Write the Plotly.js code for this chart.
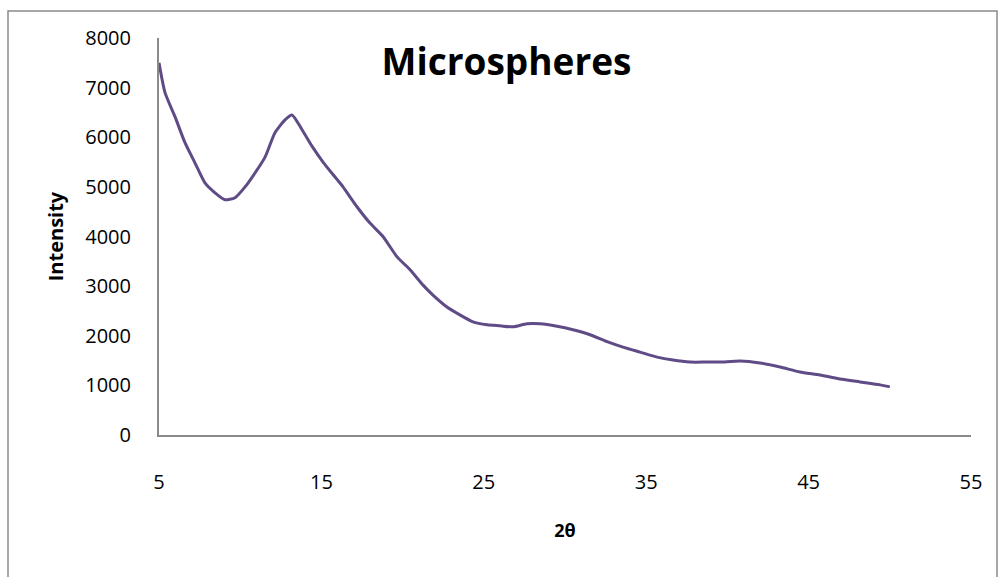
<!DOCTYPE html>
<html>
<head>
<meta charset="utf-8">
<script src="https://cdn.plot.ly/plotly-3.0.1.min.js"></script>
<style>
html,body{margin:0;padding:0;background:#fff;}
#chart{width:1000px;height:577px;}
</style>
</head>
<body>
<div id="chart"></div>
<script>
// Data (2θ in degrees, intensity in counts)
const twoTheta = [5.00, 5.37, 5.99, 6.60, 7.22, 7.83, 8.45, 9.06, 9.68, 10.30,
  10.91, 11.53, 12.14, 12.76, 13.19, 13.81, 14.42, 15.10, 15.96, 16.33,
  17.19, 17.99, 18.79, 19.66, 20.46, 21.26, 21.87, 22.73, 23.53, 24.33,
  25.20, 26.00, 26.80, 27.66, 28.46, 29.51, 30.49, 31.54, 32.59, 33.57,
  34.62, 35.67, 36.65, 37.70, 38.74, 39.54, 40.78, 42.01, 43.24, 44.47,
  45.70, 46.93, 48.16, 49.40, 50.00];
const intensity = [7500, 6900, 6410, 5890, 5480, 5080, 4880, 4740, 4780, 5000,
  5280, 5600, 6090, 6350, 6450, 6150, 5820, 5500, 5150, 5000,
  4600, 4270, 4000, 3590, 3330, 3020, 2820, 2580, 2420, 2280,
  2220, 2200, 2180, 2240, 2240, 2190, 2120, 2020, 1880, 1770,
  1670, 1570, 1510, 1470, 1470, 1470, 1490, 1450, 1370, 1270,
  1210, 1130, 1070, 1010, 970];
const xTicks = [5, 15, 25, 35, 45, 55];
const yTicks = [0, 1000, 2000, 3000, 4000, 5000, 6000, 7000, 8000];
const chartTitle = 'Microspheres';
const xTitle = '2θ';
const yTitle = 'Intensity';

const trace = {
  x: twoTheta, y: intensity, type: 'scatter', mode: 'lines',
  line: {color: '#5F4B86', width: 3, shape: 'spline', smoothing: 0.6},
  hoverinfo: 'skip', showlegend: false
};

const tickFont = {family: 'Open Sans, sans-serif', size: 20, color: '#000'};
const layout = {
  width: 1000, height: 577,
  margin: {l: 159, r: 29, t: 38, b: 142, pad: 0},
  paper_bgcolor: '#ffffff', plot_bgcolor: '#ffffff',
  showlegend: false,
  title: {text: chartTitle, x: 0.428, xref: 'paper', xanchor: 'center',
    y: 1 - 62/577, yanchor: 'middle',
    font: {family: 'Open Sans, sans-serif', size: 37, color: '#000', weight: 'bold'}},
  xaxis: {
    range: [5, 55], tickvals: xTicks, ticktext: xTicks.map(String),
    showgrid: false, zeroline: false, showline: true, linecolor: '#8a8a8a', linewidth: 2,
    ticks: 'outside', ticklen: 28, tickcolor: 'rgba(0,0,0,0)',
    tickfont: tickFont,
    title: {text: xTitle, standoff: 30, font: {family: 'Open Sans, sans-serif', size: 18, color: '#000', weight: 'bold'}}
  },
  yaxis: {
    range: [0, 8000], tickvals: yTicks, ticktext: yTicks.map(String),
    showgrid: false, zeroline: false, showline: true, linecolor: '#8a8a8a', linewidth: 2,
    ticks: 'outside', ticklen: 22, tickcolor: 'rgba(0,0,0,0)',
    tickfont: tickFont,
    title: {text: yTitle, standoff: 16, font: {family: 'Open Sans, sans-serif', size: 20, color: '#000', weight: 'bold'}}
  },
  shapes: [{
    type: 'rect', xref: 'paper', yref: 'paper',
    x0: (8 - 159) / 812, x1: (997 - 159) / 812,
    y0: -0.6, y1: (435 - 11) / 397,
    line: {color: '#8a8a8a', width: 1.5}, fillcolor: 'rgba(0,0,0,0)', layer: 'below'
  }]
};

Plotly.newPlot('chart', [trace], layout, {staticPlot: true, displayModeBar: false});
</script>
</body>
</html>
